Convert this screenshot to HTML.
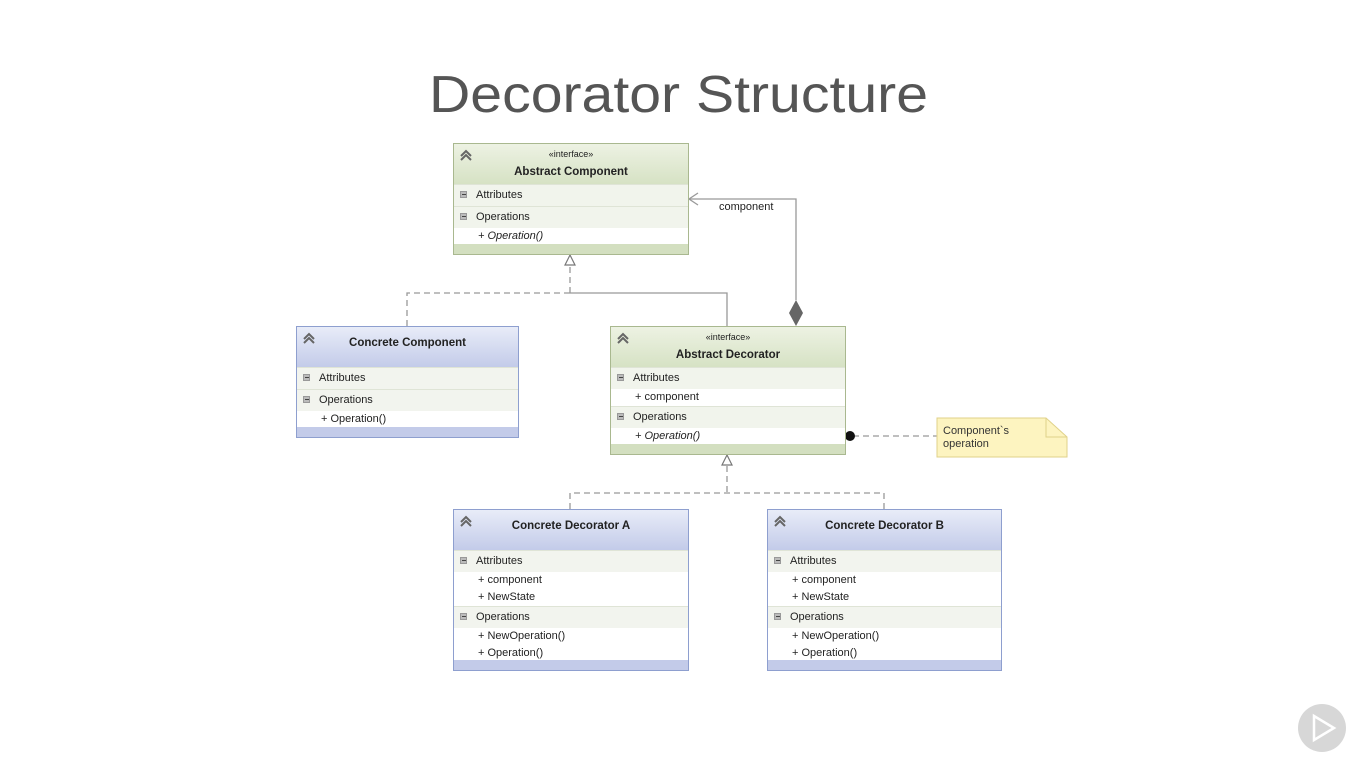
<!DOCTYPE html>
<html><head><meta charset="utf-8"><style>
body{margin:0;width:1366px;height:768px;background:#fff;position:relative;overflow:hidden;font-family:"Liberation Sans",sans-serif;}
.box{position:absolute;border:1px solid #a9b88f;box-sizing:border-box;background:#fff;font-size:11px;color:#222;}
.g .hd{background:linear-gradient(#edf2e3,#d6e2c4);}
.g .ft{background:#d3dfc0;}
.g .sec{background:#f1f4ec;}
.b{border-color:#8e9fcf;}
.b .hd{background:linear-gradient(#e8ecf8,#c3cbe9);}
.b .ft{background:#c3cbe9;}
.b .sec{background:#f2f4ee;}
.hd{position:relative;height:40px;text-align:center;}
.hd .st{font-size:9px;padding-top:5px;height:12px;}
.g .hd .nm{padding-top:5px;}
.hd .nm{font-weight:bold;font-size:11.5px;}
.hd svg{position:absolute;left:5px;top:5px;}
.sec{height:21px;line-height:20px;padding-left:22px;position:relative;border-top:1px solid #dfe4d6;}
.sec:before{content:"";position:absolute;left:6px;top:6px;width:7px;height:7px;background:#bbb;border:1px solid #999;box-sizing:border-box;}
.sec:after{content:"";position:absolute;left:8px;top:9px;width:4px;height:1px;background:#444;}
.it{height:17px;line-height:17px;padding-left:24px;}
.ft{height:10px;position:absolute;bottom:0;left:0;right:0;}
</style></head><body>
<svg width="1366" height="768" style="position:absolute;left:0;top:0">
<text x="429" y="112" font-family="Liberation Sans" font-size="52" fill="#555" textLength="499" lengthAdjust="spacingAndGlyphs">Decorator Structure</text>
<g stroke="#999" stroke-width="1.3" fill="none">
<path d="M407 326V293H570" stroke-dasharray="6,4"/>
<path d="M570 293V267" stroke-dasharray="6,4"/>
<path d="M727 326V293H570"/>
<path d="M796 300V199H689"/>
<path d="M698 193L689 199L698 205"/>
<path d="M727 466V493" stroke-dasharray="6,4"/>
<path d="M570 509V493H884V509" stroke-dasharray="6,4"/>
<path d="M853 436H937" stroke-dasharray="6,4"/>
</g>
<path d="M570 255L565 265H575Z" fill="#fff" stroke="#777" stroke-width="1.2"/>
<path d="M727 455L722 465H732Z" fill="#fff" stroke="#777" stroke-width="1.2"/>
<path d="M796 300L803 313L796 326L789 313Z" fill="#666"/>
<circle cx="850" cy="436" r="5" fill="#111"/>
<path d="M937 418H1046L1067 437V457H937Z" fill="#fdf4c0" stroke="#e0d28a"/>
<path d="M1046 418V437H1067" fill="none" stroke="#e0d28a"/>
<text x="943" y="434" font-size="11" font-family="Liberation Sans" fill="#333">Component`s</text>
<text x="943" y="447" font-size="11" font-family="Liberation Sans" fill="#333">operation</text>
<text x="719" y="210" font-size="11" font-family="Liberation Sans" fill="#222">component</text>
<circle cx="1322" cy="728" r="24" fill="#d7d7d7"/>
<path d="M1314 716L1334 728L1314 740Z" fill="none" stroke="#fff" stroke-width="2.5"/>
</svg>

<div class="box g" style="left:453px;top:143px;width:236px;height:112px">
<div class="hd"><svg width="14" height="12"><path d="M2 7L7 2L12 7M2 11L7 6L12 11" fill="none" stroke="#666" stroke-width="2"/></svg><div class="st">«interface»</div><div class="nm">Abstract Component</div></div>
<div class="sec">Attributes</div><div class="sec">Operations</div>
<div class="it"><i>+ Operation()</i></div><div class="ft"></div></div>

<div class="box b" style="left:296px;top:326px;width:223px;height:112px">
<div class="hd" style="line-height:32px"><svg width="14" height="12"><path d="M2 7L7 2L12 7M2 11L7 6L12 11" fill="none" stroke="#666" stroke-width="2"/></svg><div class="nm">Concrete Component</div></div>
<div class="sec">Attributes</div><div class="sec">Operations</div>
<div class="it">+ Operation()</div><div class="ft"></div></div>

<div class="box g" style="left:610px;top:326px;width:236px;height:129px">
<div class="hd"><svg width="14" height="12"><path d="M2 7L7 2L12 7M2 11L7 6L12 11" fill="none" stroke="#666" stroke-width="2"/></svg><div class="st">«interface»</div><div class="nm">Abstract Decorator</div></div>
<div class="sec">Attributes</div><div class="it">+ component</div><div class="sec">Operations</div>
<div class="it"><i>+ Operation()</i></div><div class="ft"></div></div>

<div class="box b" style="left:453px;top:509px;width:236px;height:162px">
<div class="hd" style="line-height:32px"><svg width="14" height="12"><path d="M2 7L7 2L12 7M2 11L7 6L12 11" fill="none" stroke="#666" stroke-width="2"/></svg><div class="nm">Concrete Decorator A</div></div>
<div class="sec">Attributes</div><div class="it">+ component</div><div class="it">+ NewState</div>
<div class="sec">Operations</div><div class="it">+ NewOperation()</div><div class="it">+ Operation()</div><div class="ft"></div></div>

<div class="box b" style="left:767px;top:509px;width:235px;height:162px">
<div class="hd" style="line-height:32px"><svg width="14" height="12"><path d="M2 7L7 2L12 7M2 11L7 6L12 11" fill="none" stroke="#666" stroke-width="2"/></svg><div class="nm">Concrete Decorator B</div></div>
<div class="sec">Attributes</div><div class="it">+ component</div><div class="it">+ NewState</div>
<div class="sec">Operations</div><div class="it">+ NewOperation()</div><div class="it">+ Operation()</div><div class="ft"></div></div>
</body></html>
